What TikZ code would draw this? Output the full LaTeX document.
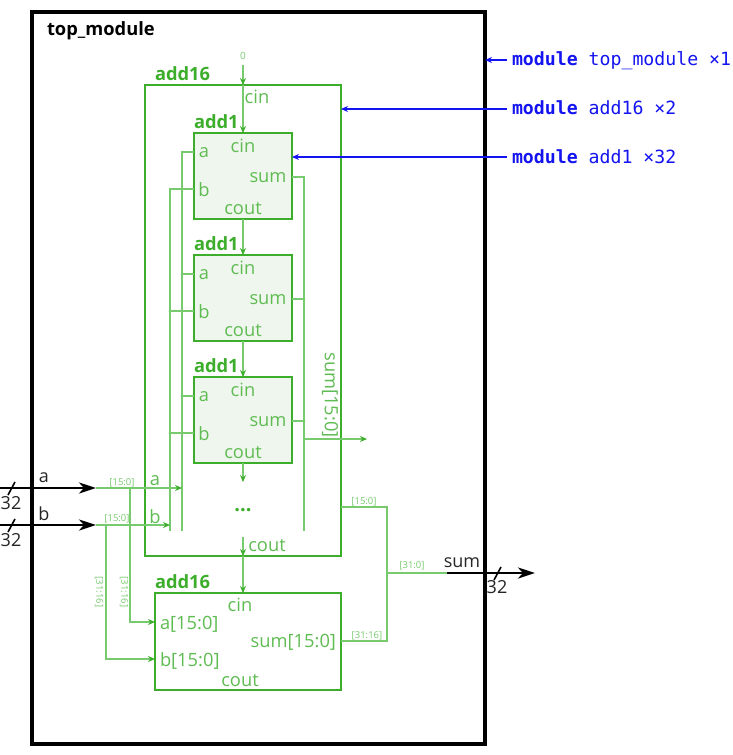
\documentclass[tikz,border=0pt]{standalone}
\usepackage{fontspec}
\setmainfont{Open Sans}
\setmonofont{DejaVu Sans Mono}
\usetikzlibrary{arrows.meta,calc}
\definecolor{gbox}{HTML}{3DAE2B}
\definecolor{gwire}{HTML}{78CA6E}
\definecolor{gtext}{HTML}{5FBC52}
\definecolor{gfill}{HTML}{EFF6ED}
\definecolor{mblue}{HTML}{1414F0}
\tikzset{
  px/.style={inner sep=0pt,outer sep=0pt},
  frame/.style={draw=black,line width=4.5pt,fill=white,inner sep=0pt,outer sep=0pt},
  bigbox/.style={draw=gbox,line width=2.7pt,inner sep=0pt,outer sep=0pt},
  cell/.style={bigbox,fill=gfill,minimum width=98pt,minimum height=86pt},
  title/.style={px,anchor=base west,yshift=-0.7pt,font=\fontsize{18.3}{20}\selectfont\bfseries,text=gbox},
  gl/.style={px,yshift=-1pt,font=\fontsize{18.3}{20}\selectfont,text=gtext},
  tl/.style={px,font=\fontsize{9.5}{11}\selectfont,text=gwire},
  bl/.style={px,font=\fontsize{18}{20}\selectfont,text=black!85},
  wire/.style={draw=gwire,line width=1.3pt},
  hwire/.style={wire,-{Stealth[length=7pt,width=6pt,color=gbox]}},
  bus/.style={draw=black,line width=2.6pt,-{Stealth[length=17pt,width=11pt,inset=5pt]}},
  tick/.style={draw=black,line width=1.6pt},
  ann/.style={draw=mblue,line width=1.1pt,-{Stealth[length=7pt,width=6pt]}},
  mod/.style={px,anchor=base west,font=\fontsize{18.2}{20}\ttfamily,text=mblue},
  dotj/.style={circle,fill=gwire,inner sep=0pt,minimum size=3pt}
}
\begin{document}
\begin{tikzpicture}[x=1pt,y=-1pt]
\useasboundingbox (0,0) rectangle (733,755);
\fill[white] (0,0) rectangle (733,755);
\node[frame,minimum width=453pt,minimum height=732pt] (top) at (258.5,378) {};
\node[px,anchor=base west,font=\fontsize{18.3}{20}\selectfont\bfseries] (toplab) at (47,35) {top\_module};
% boxes
\node[bigbox,minimum width=196pt,minimum height=471pt] (A) at (243,320.5) {};
\node[title] (Alab) at (155,80) {add16};
\node[bigbox,minimum width=186pt,minimum height=97pt] (B) at (248,641.5) {};
\node[title] (Blab) at (155,588) {add16};
\foreach \n/\yy in {1/133,2/255,3/377}{
  \node[cell] (c\n) at (243,\yy+43) {};
  \node[title] (t\n) at (194,\yy-5) {add1};
  \node[gl] (cin\n) at (243,\yy+12) {cin};
  \node[gl] (a\n) at (204,\yy+19) {a};
  \node[gl] (b\n) at (204,\yy+56) {b};
  \node[gl] (s\n) at (268,\yy+44) {sum};
  \node[gl] (co\n) at (243,\yy+75) {cout};
  \coordinate (pa\n) at (194,\yy+19);
  \coordinate (pb\n) at (194,\yy+56);
  \coordinate (ps\n) at (292,\yy+44);
}
% rails
\coordinate (railaT) at (182,152);
\coordinate (railaB) at (182,531);
\coordinate (railbT) at (170,189);
\coordinate (railbB) at (170,531);
\coordinate (railsT) at (304,177);
\coordinate (railsB) at (304,531);
\draw[wire] (pa1) -- (railaT) -- (railaB);
\draw[wire] (pb1) -- (railbT) -- (railbB);
\draw[wire] (ps1) -- (railsT) -- (railsB);
\foreach \n in {2,3}{
  \draw[wire] (pa\n) -- (pa\n -| railaT) node[dotj] {};
  \draw[wire] (pb\n) -- (pb\n -| railbT) node[dotj] {};
  \draw[wire] (ps\n) -- (ps\n -| railsT) node[dotj] {};
}
\coordinate (so) at (367,439);
\draw[hwire] (so -| railsT) -- (so);
\node[gl,rotate=-90] (sumr) at (330,394) {sum[15:0]};
% carry chain
\node[px,font=\fontsize{10}{11}\selectfont,text=gwire] (zero) at (243,56) {0};
\coordinate (cs) at (243,65);
\draw[hwire] (cs) -- (A.north);
\draw[hwire] (A.north) -- (c1.north);
\node[gl] (cinA) at (257,96) {cin};
\draw[hwire] (c1.south) -- (c2.north);
\draw[hwire] (c2.south) -- (c3.north);
\coordinate (ce) at (243,482);
\draw[hwire] (c3.south) -- (ce);
\node[px,font=\fontsize{20}{22}\selectfont\bfseries,text=gbox] (dots) at (243,510) {...};
\coordinate (cr) at (243,537);
\draw[hwire] (cr) -- (A.south);
\draw[hwire] (A.south) -- (B.north -| A.south);
\node[gl] (coutA) at (267,545) {cout};
% add16 B labels
\node[gl] (bcin) at (240,604) {cin};
\node[gl,anchor=west] (ba) at (160,623) {a[15:0]};
\node[gl,anchor=west] (bb) at (160,660) {b[15:0]};
\node[gl,anchor=east] (bs) at (336,641) {sum[15:0]};
\node[gl] (bco) at (240,680) {cout};
% inputs
\coordinate (ia0) at (0,488);
\coordinate (ib0) at (0,525);
\coordinate (ia) at (96,488);
\coordinate (ib) at (96,525);
\draw[bus] (ia0) -- (ia);
\draw[bus] (ib0) -- (ib);
\draw[tick] (8,495) -- (15,482);
\draw[tick] (8,532) -- (15,519);
\node[bl] (n32a) at (11,503) {32};
\node[bl] (n32b) at (11,540) {32};
\node[bl] (la) at (44,478) {a};
\node[bl] (lb) at (44,514) {b};
\draw[hwire] (ia) -- (ia -| railaT);
\draw[hwire] (ib) -- (ib -| railbT);
\node[gl] (ga) at (155,480) {a};
\node[gl] (gb) at (155,516) {b};
\node[tl] (t15a) at (122,483) {[15:0]};
\node[tl] (t15b) at (117,519) {[15:0]};
\coordinate (ta) at (130,488);
\coordinate (tb) at (106,525);
\coordinate (pba) at (155,622);
\coordinate (pbb) at (155,659);
\draw[hwire] (ta) -- (ta |- pba) -- (pba);
\draw[hwire] (tb) -- (tb |- pbb) -- (pbb);
\node[tl,rotate=-90] (r1) at (124,592) {[31:16]};
\node[tl,rotate=-90] (r2) at (99,592) {[31:16]};
% output
\coordinate (oa) at (341,507);
\coordinate (ob) at (341,641);
\coordinate (m) at (387,573);
\coordinate (oe) at (447,573);
\coordinate (oz) at (535,573);
\draw[wire] (oa) -- (oa -| m) -- (ob -| m) -- (ob);
\draw[wire] (m) -- (oe);
\draw[bus] (oe) -- (oz);
\draw[tick] (494,580) -- (501,567);
\node[bl] (n32o) at (497,587) {32};
\node[bl] (lsum) at (462,563) {sum};
\node[tl] (t1) at (364,502) {[15:0]};
\node[tl] (t2) at (367,636) {[31:16]};
\node[tl] (t3) at (412,566) {[31:0]};
% annotations
\node[mod] (m1) at (512,65) {\textbf{module} top\_module ×1};
\node[mod] (m2) at (512,114) {\textbf{module} add16 ×2};
\node[mod] (m3) at (512,163) {\textbf{module} add1 ×32};
\coordinate (e1) at (507,60);
\coordinate (e2) at (507,109);
\coordinate (e3) at (507,157);
\draw[ann] (e1) -- (e1 -| top.east);
\draw[ann] (e2) -- (e2 -| A.east);
\draw[ann] (e3) -- (e3 -| c1.east);
\end{tikzpicture}
\end{document}
